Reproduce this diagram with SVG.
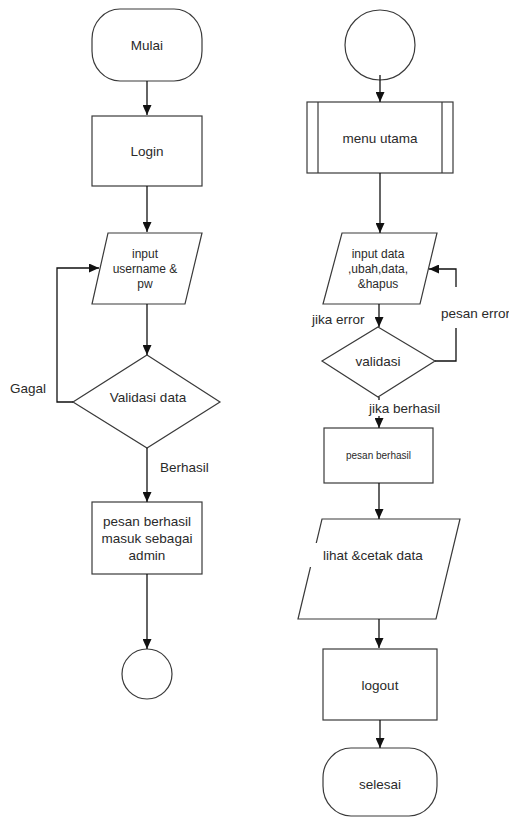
<svg xmlns="http://www.w3.org/2000/svg" width="509" height="818" viewBox="0 0 509 818">
<style>
.s{fill:#fff;stroke:#3a3a3a;stroke-width:1.2}
.c{fill:none;stroke:#111;stroke-width:1.3}
.t{font-family:"Liberation Sans",Arial,sans-serif;font-size:13.5px;fill:#2a2a2a;text-anchor:middle;dominant-baseline:central}
.sm{font-size:12px}
.xs{font-size:10px}
.l{text-anchor:start}
</style>
<defs>
<marker id="a" markerUnits="userSpaceOnUse" markerWidth="10" markerHeight="9" refX="10" refY="4.5" orient="auto">
<path d="M0,0 L10,4.5 L0,9 z" fill="#111"/>
</marker>
</defs>
<rect width="509" height="818" fill="#fff"/>
<g id="mulai">
<rect class="s" x="92" y="9" width="110" height="72" rx="28" ry="30"/>
<text class="t" x="147" y="45">Mulai</text>
</g>
<g id="login">
<rect class="s" x="92" y="116" width="110" height="70"/>
<text class="t" x="147" y="151">Login</text>
</g>
<g id="input-login">
<polygon class="s" points="108,233 202,233 185,304 92,304"/>
<text class="t sm" x="145" y="254">input</text>
<text class="t sm" x="145" y="269">username &amp;</text>
<text class="t sm" x="145" y="284">pw</text>
</g>
<g id="validasi-data">
<polygon class="s" points="147,355 220,402 147,448 73,402"/>
<text class="t" x="148" y="397">Validasi data</text>
</g>
<g id="pesan-admin">
<rect class="s" x="92" y="502" width="110" height="72"/>
<text class="t" x="147" y="521">pesan berhasil</text>
<text class="t" x="147" y="538">masuk sebagai</text>
<text class="t" x="147" y="555">admin</text>
</g>
<g id="connector-left">
<circle class="s" cx="147" cy="674" r="25"/>
</g>
<g id="connector-right">
<circle class="s" cx="380" cy="45" r="35"/>
</g>
<g id="menu-utama">
<rect class="s" x="307" y="102" width="146" height="71"/>
<path class="s" d="M318,102 V173 M442,102 V173"/>
<text class="t" x="380" y="138">menu utama</text>
</g>
<g id="input-data">
<polygon class="s" points="342,233 437,233 420,304 323,304"/>
<text class="t sm" x="378" y="254">input data</text>
<text class="t sm" x="378" y="269">,ubah,data,</text>
<text class="t sm" x="378" y="284">&amp;hapus</text>
</g>
<g id="validasi">
<polygon class="s" points="378,327 435,361 378,397 322,361"/>
<text class="t" x="378" y="361">validasi</text>
</g>
<g id="pesan-berhasil">
<rect class="s" x="324" y="428" width="109" height="55"/>
<text class="t xs" x="378.5" y="455">pesan berhasil</text>
</g>
<g id="lihat-cetak">
<polygon class="s" points="322,519 460,519 436,619 298,619"/>
<rect x="308" y="543" width="122" height="24" fill="#fff"/>
<text class="t l" x="323" y="555">lihat &amp;cetak data</text>
</g>
<g id="logout">
<rect class="s" x="323" y="649" width="114" height="71"/>
<text class="t" x="380" y="685">logout</text>
</g>
<g id="selesai">
<rect class="s" x="323" y="748" width="114" height="68" rx="28" ry="30"/>
<text class="t" x="380" y="784">selesai</text>
</g>
<g id="connectors">
<path class="c" d="M147,81 V115" marker-end="url(#a)"/>
<path class="c" d="M147,186 V232" marker-end="url(#a)"/>
<path class="c" d="M147,304 V355" marker-end="url(#a)"/>
<path class="c" d="M73,402 H57 V268 H99" marker-end="url(#a)"/>
<path class="c" d="M147,448 V502" marker-end="url(#a)"/>
<path class="c" d="M147,574 V649" marker-end="url(#a)"/>
<path class="c" d="M380,75 V102" marker-end="url(#a)"/>
<path class="c" d="M380,173 V233" marker-end="url(#a)"/>
<path class="c" d="M379,304 V327" marker-end="url(#a)"/>
<path class="c" d="M435,361 H456 V269 H429" marker-end="url(#a)"/>
<path class="c" d="M379,397 V428" marker-end="url(#a)"/>
<path class="c" d="M379,483 V519" marker-end="url(#a)"/>
<path class="c" d="M379,619 V648" marker-end="url(#a)"/>
<path class="c" d="M380,720 V748" marker-end="url(#a)"/>
</g>
<g id="labels">
<text class="t l" x="10" y="388">Gagal</text>
<text class="t l" x="160" y="467">Berhasil</text>
<text class="t l" x="312" y="319">jika error</text>
<rect x="438" y="287" width="71" height="41" fill="#fff"/>
<text class="t l" x="441" y="313">pesan error</text>
<rect x="368" y="400" width="75" height="16" fill="#fff"/>
<text class="t l" x="369" y="408">jika berhasil</text>
</g>
</svg>
